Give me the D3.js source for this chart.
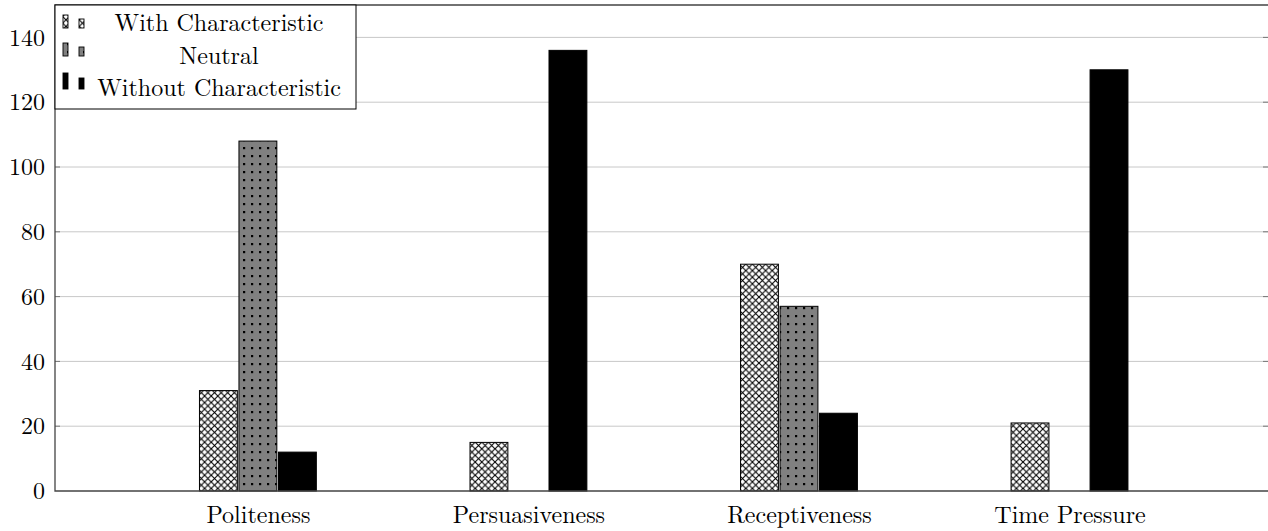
<!DOCTYPE html>
<html><head><meta charset="utf-8">
<script src="https://cdn.jsdelivr.net/npm/d3@7"></script>
<style>body{margin:0;background:#fff}svg{display:block}</style>
</head><body>
<script>
const categories = ["Politeness", "Persuasiveness", "Receptiveness", "Time Pressure"];
const seriesNames = ["With Characteristic", "Neutral", "Without Characteristic"];
const withChar = [31, 15, 70, 21];
const neutral = [108, 0, 57, 0];
const withoutChar = [12, 136, 24, 130];
const yTicks = [0, 20, 40, 60, 80, 100, 120, 140];

const W = 1268, H = 531;
const mLeft = 55, mRight = 1267, mTop = 5, mBottom = 491;
const FONT = "'Latin Modern Roman', 'CMU Serif', 'Liberation Serif', serif";
const FS = 24;

const svg = d3.select("body").append("svg").attr("width", W).attr("height", H);
const defs = svg.append("defs");
const ch = defs.append("pattern").attr("id", "crosshatch").attr("patternUnits", "userSpaceOnUse")
  .attr("width", 6.6).attr("height", 6.6);
ch.append("rect").attr("width", 6.6).attr("height", 6.6).attr("fill", "#fff");
ch.append("path").attr("d", "M0,0L6.6,6.6M6.6,0L0,6.6").attr("stroke", "#000").attr("stroke-width", 1.1);
const dp = defs.append("pattern").attr("id", "dots").attr("patternUnits", "userSpaceOnUse")
  .attr("width", 8).attr("height", 8);
dp.append("rect").attr("width", 8).attr("height", 8).attr("fill", "#808080");
dp.append("rect").attr("x", 3).attr("y", 3).attr("width", 2.2).attr("height", 2.2).attr("fill", "#000");

const fills = ["url(#crosshatch)", "url(#dots)", "#000"];
const series = [withChar, neutral, withoutChar];

const x = d3.scaleLinear().domain([-0.75, 3.73]).range([mLeft, mRight]);
const y = d3.scaleLinear().domain([0, 150]).range([mBottom, mTop]);
const barW = 0.14, offs = [-0.146, 0, 0.146];

// grid
svg.append("g").selectAll("line").data(yTicks.filter(d => d > 0)).join("line")
  .attr("x1", mLeft).attr("x2", W + 2).attr("y1", d => y(d)).attr("y2", d => y(d))
  .attr("stroke", "#c8c8c8").attr("stroke-width", 1);
// inner ticks
const tk = svg.append("g").attr("stroke", "#777").attr("stroke-width", 1);
yTicks.filter(d => d > 0).forEach(d => {
  tk.append("line").attr("x1", mLeft).attr("x2", mLeft + 5).attr("y1", y(d)).attr("y2", y(d));
  tk.append("line").attr("x1", W - 5).attr("x2", W).attr("y1", y(d)).attr("y2", y(d));
});

// y axis
const yAxis = svg.append("g").attr("transform", `translate(${mLeft},0)`)
  .call(d3.axisLeft(y).tickValues(yTicks).tickSize(0).tickPadding(10));
yAxis.select(".domain").remove();
yAxis.selectAll("text").attr("font-family", FONT).attr("font-size", FS).attr("fill", "#000");

// bars
series.forEach((vals, si) => {
  svg.append("g").selectAll("rect").data(vals.map((v, i) => ({v, i})).filter(d => d.v > 0)).join("rect")
    .attr("x", d => x(d.i + offs[si] - barW / 2))
    .attr("width", d => x(barW) - x(0))
    .attr("y", d => y(d.v))
    .attr("height", d => y(0) - y(d.v))
    .attr("fill", fills[si]).attr("stroke", "#000").attr("stroke-width", 1);
});

// x axis labels
const xAxis = svg.append("g").attr("transform", `translate(0,${mBottom})`)
  .call(d3.axisBottom(x).tickValues(d3.range(categories.length)).tickFormat(i => categories[i]).tickSize(0).tickPadding(15));
xAxis.select(".domain").remove();
xAxis.selectAll("text").attr("font-family", FONT).attr("font-size", FS).attr("fill", "#000");

// frame (left, top, bottom; right edge falls just outside the view)
svg.append("path")
  .attr("d", `M${W + 2},${mTop}H${mLeft}V${mBottom}H${W + 2}`)
  .attr("fill", "none").attr("stroke", "#444").attr("stroke-width", 1.3);

// legend
const lg = svg.append("g");
lg.append("rect").attr("x", mLeft).attr("y", mTop).attr("width", 301).attr("height", 104)
  .attr("fill", "#fff").attr("stroke", "#000").attr("stroke-width", 1);
const imgBottom = [28, 56, 89];
const textBase = [31, 64, 96];
const barH = [[13, 9], [13, 9], [16, 11]];
seriesNames.forEach((name, i) => {
  lg.append("rect").attr("x", 63).attr("y", imgBottom[i] - barH[i][0]).attr("width", 5).attr("height", barH[i][0])
    .attr("fill", fills[i]).attr("stroke", "#000").attr("stroke-width", 0.9);
  lg.append("rect").attr("x", 79).attr("y", imgBottom[i] - barH[i][1]).attr("width", 5).attr("height", barH[i][1])
    .attr("fill", fills[i]).attr("stroke", "#000").attr("stroke-width", 0.9);
  lg.append("text").attr("x", 219).attr("y", textBase[i]).attr("text-anchor", "middle")
    .attr("font-family", FONT).attr("font-size", FS).attr("fill", "#000").text(name);
});
</script>
</body></html>
